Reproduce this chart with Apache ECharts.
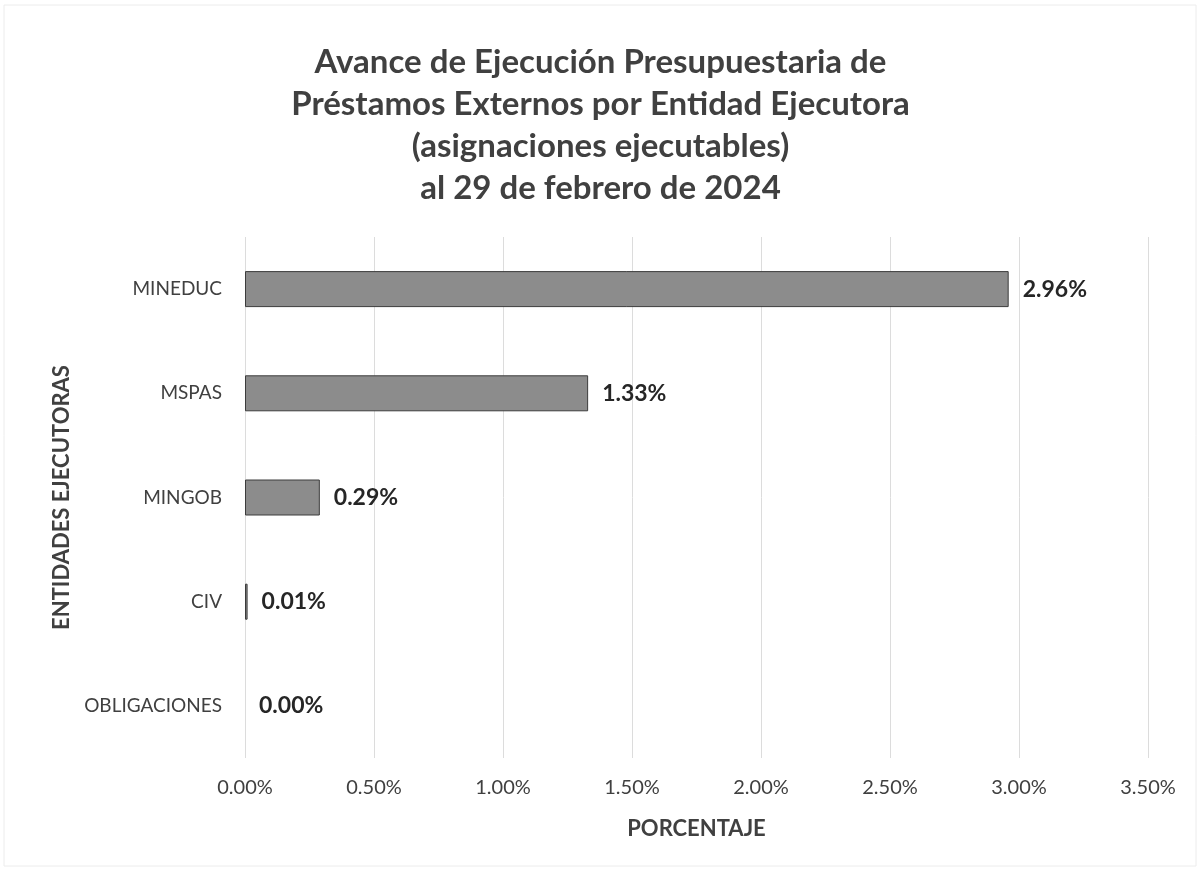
<!DOCTYPE html>
<html>
<head>
<meta charset="utf-8">
<script src="https://cdn.jsdelivr.net/npm/echarts@6/dist/echarts.min.js"></script>
<style>
  html, body { margin: 0; padding: 0; background: #fff; }
  #chart { width: 1201px; height: 871px; }
</style>
</head>
<body>
<div id="chart"></div>
<script>
// datos del gráfico
const entidades = ['MINEDUC', 'MSPAS', 'MINGOB', 'CIV', 'OBLIGACIONES'];
const avance = [2.96, 1.33, 0.29, 0.01, 0.00];
const titulo = [
  'Avance de Ejecución Presupuestaria de',
  'Préstamos Externos por Entidad Ejecutora',
  '(asignaciones ejecutables)',
  'al 29 de febrero de 2024'
];

const fuente = 'Lato, "Open Sans", sans-serif';
const textoOscuro = '#404040';

const options = {
  backgroundColor: '#ffffff',
  textStyle: { fontFamily: fuente },
  title: {
    text: titulo.join('\n'),
    left: 'center',
    top: 36,
    textStyle: {
      fontFamily: fuente,
      fontSize: 33,
      fontWeight: 'bold',
      color: textoOscuro,
      lineHeight: 42
    }
  },
  // borde tenue del área del gráfico
  graphic: [{
    type: 'rect',
    shape: { x: 4, y: 5, width: 1192, height: 861 },
    style: { fill: 'none', stroke: '#ececec', lineWidth: 1 },
    silent: true
  }],
  grid: {
    left: 245,
    right: 53,
    top: 237,
    bottom: 113
  },
  xAxis: {
    type: 'value',
    min: 0,
    max: 3.5,
    interval: 0.5,
    name: 'PORCENTAJE',
    nameLocation: 'middle',
    nameGap: 60,
    nameTextStyle: {
      fontFamily: fuente,
      fontSize: 22,
      fontWeight: 'bold',
      color: textoOscuro
    },
    axisLine: { show: false },
    axisTick: { show: false },
    axisLabel: {
      margin: 20,
      fontSize: 20,
      color: textoOscuro,
      formatter: v => v.toFixed(2) + '%'
    },
    splitLine: {
      show: true,
      lineStyle: { color: '#dcdcdc', width: 1 }
    }
  },
  yAxis: {
    type: 'category',
    data: entidades,
    inverse: true,
    name: 'ENTIDADES EJECUTORAS',
    nameLocation: 'middle',
    nameGap: 172,
    nameTextStyle: {
      fontFamily: fuente,
      fontSize: 22,
      fontWeight: 'bold',
      color: textoOscuro
    },
    axisLine: { show: false },
    axisTick: { show: false },
    axisLabel: {
      margin: 23,
      fontSize: 19,
      color: textoOscuro
    },
    splitLine: { show: false }
  },
  series: [{
    type: 'bar',
    // sin borde cuando el valor es cero
    data: avance.map(v => (v === 0 ? { value: v, itemStyle: { borderWidth: 0 } } : v)),
    barWidth: 36,
    itemStyle: {
      color: '#8c8c8c',
      borderColor: '#3c3c3c',
      borderWidth: 1
    },
    label: {
      show: true,
      position: 'right',
      distance: 14,
      fontFamily: fuente,
      fontSize: 23,
      fontWeight: 'bold',
      color: '#262626',
      formatter: p => p.value.toFixed(2) + '%'
    }
  }]
};

const chart = echarts.init(document.getElementById('chart'));
chart.setOption(options, true);
</script>
</body>
</html>
